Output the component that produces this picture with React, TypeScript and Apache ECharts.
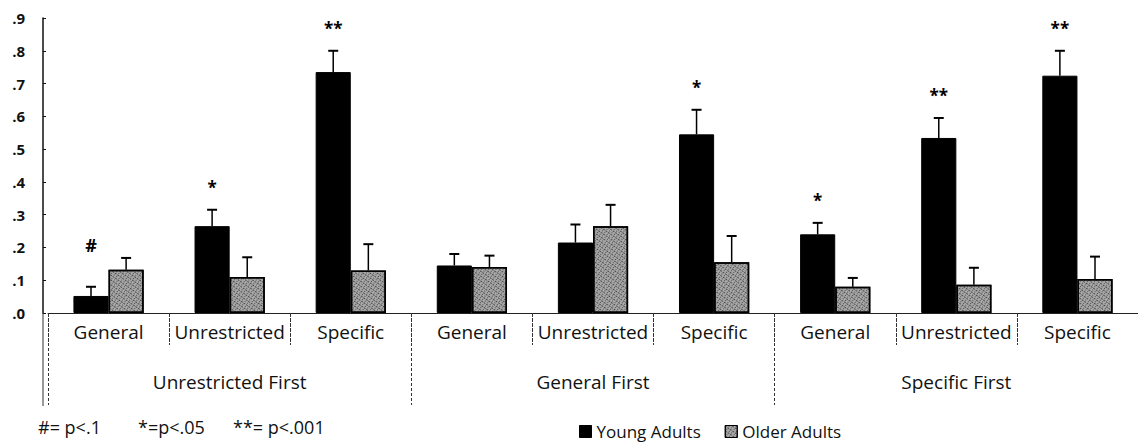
import React, { useEffect, useRef } from 'react';
import * as echarts from 'echarts';

const groups = ['Unrestricted First', 'General First', 'Specific First'];
const categories = ['General', 'Unrestricted', 'Specific', 'General', 'Unrestricted', 'Specific', 'General', 'Unrestricted', 'Specific'];
const youngMeans = [0.052, 0.265, 0.735, 0.145, 0.215, 0.545, 0.24, 0.534, 0.724];
const youngErrTop = [0.08, 0.315, 0.8, 0.18, 0.27, 0.62, 0.275, 0.595, 0.8];
const olderMeans = [0.132, 0.11, 0.13, 0.14, 0.265, 0.155, 0.08, 0.086, 0.104];
const olderErrTop = [0.168, 0.17, 0.21, 0.175, 0.33, 0.235, 0.107, 0.138, 0.172];
const significance = ['#', '*', '**', '', '', '*', '*', '**', '**'];
const seriesNames = ['Young Adults', 'Older Adults'];
const footnoteParts = ['#= p<.1', '*=p<.05', '**= p<.001'];

const FONT = '"Open Sans", Lato, sans-serif';
const BAR_FRACTION = 0.29;
const FOOTNOTE_X = [38, 138, 233];

export default function App() {
  const ref = useRef<HTMLDivElement>(null);
  useEffect(() => {
    if (!ref.current) return;
    const chart = echarts.init(ref.current, undefined, { renderer: 'svg' });
    const option: any = {
      animation: false,
      backgroundColor: '#fff',
      textStyle: { fontFamily: FONT },
      grid: { left: 48, right: -4, top: 18, bottom: 129, containLabel: false },
      legend: {
        data: seriesNames,
        left: 574,
        top: 418,
        icon: 'rect',
        itemWidth: 12,
        itemHeight: 12,
        itemGap: 24,
        itemStyle: { borderColor: '#000', borderWidth: 1 },
        textStyle: { fontFamily: FONT, fontSize: 17, color: '#111' },
      },
      xAxis: [
        {
          type: 'category',
          data: categories,
          axisLine: { show: true, lineStyle: { color: '#222', width: 1 } },
          axisTick: { show: true, length: 32, lineStyle: { color: '#333', width: 1, type: [4, 1] } },
          axisLabel: { margin: 9, fontFamily: FONT, fontSize: 19, color: '#111', interval: 0 },
        },
        {
          type: 'category',
          data: groups,
          position: 'bottom',
          axisLine: { show: false },
          axisTick: { show: true, length: 92, lineStyle: { color: '#333', width: 1, type: [3, 2] } },
          axisLabel: { margin: 59, fontFamily: FONT, fontSize: 19, color: '#111', interval: 0 },
        },
      ],
      yAxis: {
        type: 'value',
        min: 0,
        max: 0.9,
        interval: 0.1,
        offset: 5,
        axisLine: { show: true, lineStyle: { color: '#111', width: 1.5 } },
        axisTick: { show: true, inside: true, length: 3, lineStyle: { color: '#111' } },
        splitLine: { show: false },
        axisLabel: {
          margin: 18,
          fontFamily: FONT,
          fontSize: 15,
          fontWeight: 'bold',
          color: '#111',
          formatter: (v: number) => v.toFixed(1).replace(/^0/, ''),
        },
      },
      graphic: [
        {
          type: 'line',
          shape: { x1: 43, y1: 313, x2: 43, y2: 406 },
          style: { stroke: '#333', lineWidth: 1 },
        },
        ...footnoteParts.map((t, i) => ({
          type: 'text',
          left: FOOTNOTE_X[i],
          top: 418,
          style: { text: t, fontFamily: FONT, fontSize: 18, fill: '#111' },
        })),
      ],
      series: [
        {
          name: seriesNames[0],
          type: 'bar',
          barWidth: `${BAR_FRACTION * 100}%`,
          barGap: '0%',
          data: youngMeans,
          itemStyle: { color: '#000', borderColor: '#000', borderWidth: 1 },
        },
        {
          name: seriesNames[1],
          type: 'bar',
          barWidth: `${BAR_FRACTION * 100}%`,
          barGap: '0%',
          data: olderMeans,
          itemStyle: {
            color: '#a8a8a8',
            borderColor: '#000',
            borderWidth: 1.5,
            decal: {
              symbol: 'rect',
              symbolSize: 1,
              color: 'rgba(0,0,0,0.55)',
              dashArrayX: [[1, 2], [2, 1]],
              dashArrayY: [1, 1],
              rotation: 0.6,
            },
          },
        },
        {
          type: 'custom',
          name: 'errors',
          z: 10,
          silent: true,
          data: categories.map((_, i) => [i, youngMeans[i], youngErrTop[i], olderMeans[i], olderErrTop[i]]),
          renderItem: (params: any, api: any) => {
            const i = api.value(0);
            const band = api.size([1, 0])[0];
            const bw = band * BAR_FRACTION;
            const c = api.coord([i, 0]);
            const children: any[] = [];
            const pairs = [
              [-1, api.value(1), api.value(2)],
              [1, api.value(3), api.value(4)],
            ];
            let youngTopY = 0;
            pairs.forEach(([k, mean, top], j) => {
              const x = c[0] + (k * bw) / 2;
              const y1 = api.coord([i, mean])[1];
              const y2 = api.coord([i, top])[1];
              if (j === 0) youngTopY = y2;
              children.push({ type: 'line', shape: { x1: x, y1, x2: x, y2 }, style: { stroke: '#000', lineWidth: 1.5 } });
              children.push({ type: 'line', shape: { x1: x - 5, y1: y2, x2: x + 5, y2 }, style: { stroke: '#000', lineWidth: 2 } });
            });
            const sig = significance[params.dataIndex];
            if (sig) {
              const isHash = sig === '#';
              children.push({
                type: 'text',
                x: c[0] - bw / 2,
                y: youngTopY - (isHash ? 42 : 22),
                style: {
                  text: sig,
                  fontFamily: FONT,
                  fontSize: isHash ? 18 : 17,
                  fontWeight: 'bold',
                  fill: '#000',
                  align: 'center',
                  verticalAlign: 'middle',
                },
              });
            }
            return { type: 'group', children };
          },
        },
      ],
    };
    chart.setOption(option);
    return () => chart.dispose();
  }, []);
  return <div ref={ref} style={{ width: 1138, height: 442, position: 'absolute', left: 0, top: 0 }} />;
}
